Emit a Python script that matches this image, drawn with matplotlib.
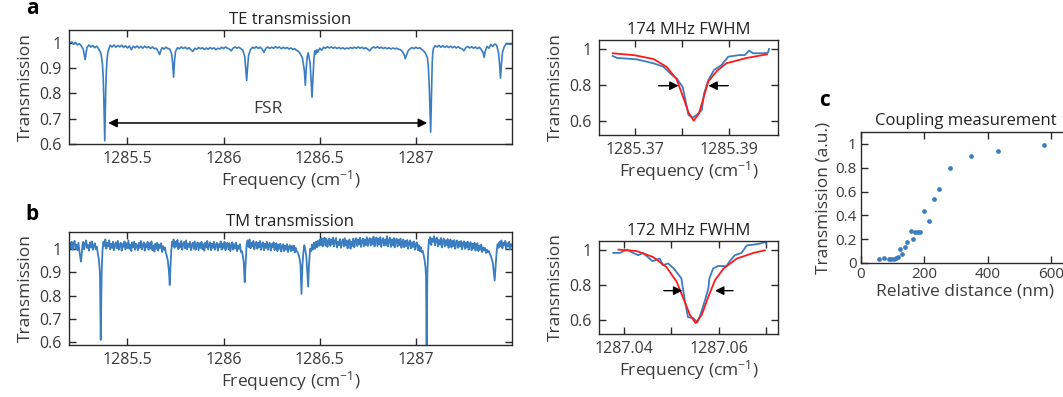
import numpy as np
import matplotlib
matplotlib.use("Agg")
import matplotlib.pyplot as plt

plt.rcParams['font.family'] = ['Open Sans', 'DejaVu Sans']
plt.rcParams['mathtext.fontset'] = 'custom'
plt.rcParams['mathtext.rm'] = 'Open Sans'
plt.rcParams['mathtext.default'] = 'regular'

# ---------------- data ----------------
TE_POINTS = """
1285.20 0.998 1285.21 1.003 1285.22 0.994 1285.23 1.001 1285.24 0.991 1285.25 0.996
1285.26 0.987 1285.27 0.975 1285.275 0.955 1285.28 0.933 1285.285 0.960 1285.29 0.982
1285.30 0.991 1285.31 0.983 1285.32 0.989 1285.33 0.980 1285.34 0.986 1285.35 0.976
1285.36 0.962 1285.365 0.945 1285.370 0.915 1285.374 0.860 1285.377 0.780 1285.380 0.670
1285.382 0.613 1285.384 0.690 1285.387 0.810 1285.390 0.885 1285.394 0.935 1285.398 0.962
1285.405 0.978 1285.41 0.990 1285.42 0.983 1285.43 0.991 1285.44 0.982 1285.45 0.989
1285.46 0.983 1285.47 0.990 1285.48 0.981 1285.49 0.988 1285.50 0.979 1285.51 0.987
1285.52 0.972 1285.53 0.986 1285.54 0.980 1285.55 0.987 1285.56 0.979 1285.57 0.985
1285.58 0.978 1285.59 0.986 1285.60 0.980 1285.61 0.984 1285.62 0.977 1285.63 0.983
1285.64 0.976 1285.65 0.978 1285.66 0.965 1285.667 0.953 1285.675 0.972 1285.68 0.980
1285.69 0.975 1285.70 0.982 1285.71 0.977 1285.72 0.975 1285.73 0.955 1285.735 0.920
1285.740 0.864 1285.745 0.930 1285.75 0.965 1285.76 0.980 1285.77 0.976 1285.78 0.983
1285.79 0.977 1285.80 0.982 1285.81 0.975 1285.82 0.980 1285.83 0.972 1285.84 0.965
1285.85 0.978 1285.86 0.974 1285.87 0.981 1285.88 0.976 1285.89 0.980 1285.90 0.973
1285.91 0.979 1285.92 0.974 1285.93 0.981 1285.94 0.975 1285.95 0.980 1285.96 0.972
1285.97 0.978 1285.98 0.975 1285.99 0.982 1286.00 0.977 1286.01 0.983 1286.02 0.978
1286.03 0.975 1286.04 0.968 1286.05 0.979 1286.06 0.983 1286.07 0.978 1286.08 0.982
1286.09 0.976 1286.10 0.970 1286.11 0.945 1286.115 0.900 1286.120 0.851 1286.125 0.905
1286.13 0.950 1286.14 0.972 1286.15 0.982 1286.16 0.978 1286.17 0.984 1286.18 0.977
1286.19 0.982 1286.20 0.975 1286.21 0.962 1286.22 0.978 1286.23 0.983 1286.24 0.977
1286.25 0.982 1286.26 0.978 1286.27 0.984 1286.28 0.979 1286.29 0.983 1286.30 0.976
1286.31 0.982 1286.32 0.977 1286.33 0.981 1286.34 0.975 1286.35 0.979 1286.36 0.973
1286.37 0.976 1286.38 0.970 1286.39 0.965 1286.40 0.955 1286.41 0.940 1286.42 0.890
1286.425 0.832 1286.43 0.900 1286.435 0.945 1286.44 0.960 1286.45 0.920 1286.455 0.850
1286.460 0.785 1286.465 0.860 1286.47 0.940 1286.475 0.968 1286.48 0.955 1286.485 0.972
1286.49 0.962 1286.50 0.978 1286.51 0.970 1286.52 0.982 1286.53 0.978 1286.54 0.984
1286.55 0.979 1286.56 0.983 1286.57 0.978 1286.58 0.982 1286.59 0.977 1286.60 0.981
1286.61 0.976 1286.62 0.980 1286.63 0.975 1286.64 0.979 1286.65 0.976 1286.66 0.981
1286.67 0.977 1286.68 0.982 1286.69 0.978 1286.70 0.983 1286.71 0.978 1286.72 0.982
1286.73 0.976 1286.74 0.980 1286.75 0.974 1286.76 0.968 1286.77 0.978 1286.78 0.983
1286.79 0.979 1286.80 0.984 1286.81 0.978 1286.82 0.982 1286.83 0.977 1286.84 0.981
1286.85 0.976 1286.86 0.980 1286.87 0.975 1286.88 0.979 1286.89 0.976 1286.90 0.978
1286.91 0.974 1286.92 0.972 1286.93 0.965 1286.94 0.950 1286.945 0.937 1286.95 0.948
1286.96 0.968 1286.97 0.976 1286.98 0.981 1286.99 0.976 1287.00 0.982 1287.01 0.977
1287.02 0.980 1287.03 0.974 1287.04 0.968 1287.05 0.958 1287.06 0.940 1287.065 0.905
1287.070 0.820 1287.073 0.740 1287.075 0.690 1287.077 0.647 1287.079 0.720 1287.082 0.830
1287.085 0.920 1287.088 0.960 1287.092 0.978 1287.10 0.988 1287.11 0.983 1287.12 0.989
1287.13 0.982 1287.14 0.988 1287.15 0.981 1287.16 0.987 1287.17 0.981 1287.18 0.986
1287.19 0.980 1287.20 0.985 1287.21 0.979 1287.22 0.984 1287.23 0.978 1287.24 0.976
1287.25 0.968 1287.26 0.980 1287.27 0.985 1287.28 0.979 1287.29 0.984 1287.30 0.978
1287.31 0.983 1287.32 0.976 1287.33 0.982 1287.34 0.973 1287.35 0.960 1287.355 0.942
1287.36 0.965 1287.37 0.985 1287.38 0.978 1287.39 0.993 1287.40 0.985 1287.41 0.995
1287.42 0.990 1287.43 0.960 1287.435 0.920 1287.440 0.860 1287.445 0.915 1287.45 0.960
1287.46 0.985 1287.47 0.994 1287.48 0.996 1287.49 0.993 1287.50 0.995
"""

TM_POINTS = """
1285.200 1.025 1285.205 1.002 1285.210 1.030 1285.215 0.996 1285.220 1.020 1285.225 1.034
1285.230 1.000 1285.235 1.018 1285.240 0.994 1285.245 1.026 1285.250 0.990 1285.255 0.962
1285.258 0.945 1285.262 0.975 1285.265 1.010 1285.270 1.030 1285.275 0.998 1285.280 1.022
1285.285 1.036 1285.290 1.004 1285.295 1.016 1285.300 0.992 1285.305 1.028 1285.310 1.006
1285.315 1.032 1285.320 0.996 1285.325 1.014 1285.330 1.024 1285.335 0.998 1285.340 1.010
1285.345 0.985 1285.350 0.960 1285.354 0.930 1285.357 0.890 1285.359 0.760 1285.361 0.610
1285.363 0.720 1285.366 0.900 1285.370 0.990 1285.375 1.030 1285.380 1.012 1285.385 1.040
1285.390 1.000 1285.395 1.026 1285.400 1.010 1285.405 1.036 1285.410 0.998 1285.415 1.022
1285.420 1.004 1285.425 1.030 1285.430 0.994 1285.435 1.018 1285.440 1.028 1285.445 1.002
1285.450 1.034 1285.455 0.996 1285.460 1.016 1285.465 1.026 1285.470 0.992 1285.475 1.020
1285.480 1.008 1285.485 1.032 1285.490 0.998 1285.495 1.024 1285.500 1.004 1285.505 1.036
1285.510 1.000 1285.515 1.018 1285.520 0.990 1285.525 1.028 1285.530 1.006 1285.535 1.030
1285.540 0.996 1285.545 1.022 1285.550 1.012 1285.555 0.994 1285.560 1.026 1285.565 1.004
1285.570 1.034 1285.575 0.998 1285.580 1.016 1285.585 1.028 1285.590 0.992 1285.595 1.020
1285.600 1.006 1285.605 1.030 1285.610 0.996 1285.615 1.024 1285.620 1.002 1285.625 1.032
1285.630 0.994 1285.635 1.014 1285.640 0.988 1285.645 1.022 1285.650 1.000 1285.655 1.026
1285.660 0.992 1285.665 1.018 1285.670 1.004 1285.675 1.024 1285.680 0.986 1285.685 1.012
1285.690 0.996 1285.695 1.006 1285.700 0.982 1285.705 0.968 1285.710 0.950 1285.715 0.910
1285.720 0.845 1285.724 0.930 1285.728 0.990 1285.732 1.030 1285.735 1.012 1285.740 1.040
1285.745 1.004 1285.750 1.030 1285.755 1.010 1285.760 1.038 1285.765 0.998 1285.770 1.024
1285.775 1.006 1285.780 1.034 1285.785 0.996 1285.790 1.020 1285.795 1.030 1285.800 1.002
1285.805 1.036 1285.810 0.998 1285.815 1.022 1285.820 1.008 1285.825 1.030 1285.830 0.994
1285.835 1.018 1285.840 1.026 1285.845 1.000 1285.850 1.032 1285.855 0.996 1285.860 1.016
1285.865 1.028 1285.870 0.994 1285.875 1.024 1285.880 1.004 1285.885 1.030 1285.890 0.998
1285.895 1.020 1285.900 0.992 1285.905 1.026 1285.910 1.006 1285.915 1.034 1285.920 0.998
1285.925 1.018 1285.930 1.028 1285.935 0.994 1285.940 1.022 1285.945 1.004 1285.950 1.030
1285.955 0.996 1285.960 1.016 1285.965 1.026 1285.970 0.992 1285.975 1.020 1285.980 1.006
1285.985 1.032 1285.990 0.996 1285.995 1.022 1286.000 1.004 1286.005 1.030 1286.010 0.994
1286.015 1.018 1286.020 1.026 1286.025 0.998 1286.030 1.024 1286.035 0.990 1286.040 1.012
1286.045 1.028 1286.050 0.996 1286.055 1.020 1286.060 1.002 1286.065 1.026 1286.070 0.990
1286.075 1.014 1286.080 1.000 1286.085 1.020 1286.090 0.986 1286.095 0.990 1286.100 0.970
1286.105 0.940 1286.110 0.857 1286.114 0.930 1286.118 0.990 1286.120 1.020 1286.125 1.036
1286.130 1.008 1286.135 1.040 1286.140 1.002 1286.145 1.026 1286.150 1.012 1286.155 1.034
1286.160 0.998 1286.165 1.020 1286.170 1.030 1286.175 1.000 1286.180 1.026 1286.185 1.006
1286.190 1.034 1286.195 0.996 1286.200 1.018 1286.205 1.028 1286.210 0.994 1286.215 1.022
1286.220 1.004 1286.225 1.030 1286.230 0.996 1286.235 1.016 1286.240 1.026 1286.245 0.992
1286.250 1.020 1286.255 1.006 1286.260 1.028 1286.265 0.994 1286.270 1.016 1286.275 1.024
1286.280 0.990 1286.285 1.018 1286.290 1.000 1286.295 1.022 1286.300 0.988 1286.305 1.010
1286.310 1.020 1286.315 0.990 1286.320 1.014 1286.325 0.996 1286.330 1.020 1286.335 0.986
1286.340 1.008 1286.345 1.016 1286.350 0.990 1286.355 1.012 1286.360 0.994 1286.365 1.014
1286.370 0.984 1286.375 1.004 1286.380 0.990 1286.385 0.985 1286.390 0.975 1286.395 0.960
1286.400 0.930 1286.405 0.807 1286.410 0.930 1286.415 0.985 1286.420 1.015 1286.425 0.995
1286.430 0.970 1286.435 0.900 1286.440 0.838 1286.444 0.930 1286.450 1.000 1286.455 0.990
1286.460 1.018 1286.465 0.996 1286.470 1.026 1286.475 1.000 1286.480 1.030 1286.485 1.006
1286.490 1.034 1286.495 1.012 1286.500 1.040 1286.505 1.016 1286.510 1.046 1286.515 1.010
1286.520 1.036 1286.525 1.048 1286.530 1.014 1286.535 1.042 1286.540 1.008 1286.545 1.030
1286.550 1.044 1286.555 1.012 1286.560 1.040 1286.565 1.020 1286.570 1.048 1286.575 1.010
1286.580 1.034 1286.585 1.046 1286.590 1.006 1286.595 1.030 1286.600 1.016 1286.605 1.042
1286.610 1.004 1286.615 1.028 1286.620 1.040 1286.625 1.010 1286.630 1.046 1286.635 1.014
1286.640 1.036 1286.645 1.002 1286.650 1.026 1286.655 1.040 1286.660 1.000 1286.665 1.030
1286.670 1.012 1286.675 1.044 1286.680 1.006 1286.685 1.032 1286.690 1.046 1286.695 1.012
1286.700 1.040 1286.705 1.018 1286.710 1.048 1286.715 1.008 1286.720 1.034 1286.725 1.044
1286.730 1.010 1286.735 1.040 1286.740 1.016 1286.745 1.050 1286.750 1.012 1286.755 1.036
1286.760 1.046 1286.765 1.014 1286.770 1.042 1286.775 1.020 1286.780 1.052 1286.785 1.010
1286.790 1.038 1286.795 1.048 1286.800 1.012 1286.805 1.044 1286.810 1.018 1286.815 1.050
1286.820 1.008 1286.825 1.036 1286.830 1.046 1286.835 1.014 1286.840 1.040 1286.845 1.016
1286.850 1.054 1286.855 1.010 1286.860 1.036 1286.865 1.048 1286.870 1.008 1286.875 1.040
1286.880 1.014 1286.885 1.046 1286.890 1.006 1286.895 1.034 1286.900 1.044 1286.905 1.010
1286.910 1.038 1286.915 1.016 1286.920 1.044 1286.925 1.004 1286.930 1.030 1286.935 1.040
1286.940 1.006 1286.945 1.034 1286.950 1.012 1286.955 1.038 1286.960 1.000 1286.965 1.026
1286.970 1.036 1286.975 1.002 1286.980 1.028 1286.985 1.008 1286.990 1.032 1286.995 0.996
1287.000 1.020 1287.005 1.028 1287.010 0.994 1287.015 1.016 1287.020 0.990 1287.025 1.008
1287.030 0.985 1287.035 0.992 1287.040 0.975 1287.045 0.955 1287.050 0.920 1287.053 0.880
1287.055 0.700 1287.056 0.560 1287.057 0.700 1287.060 0.900 1287.064 0.990 1287.068 1.040
1287.070 1.024 1287.075 1.050 1287.080 1.016 1287.085 1.044 1287.090 1.030 1287.095 1.054
1287.100 1.014 1287.105 1.040 1287.110 1.048 1287.115 1.010 1287.120 1.038 1287.125 1.018
1287.130 1.046 1287.135 1.006 1287.140 1.032 1287.145 1.044 1287.150 1.010 1287.155 1.036
1287.160 1.016 1287.165 1.042 1287.170 1.004 1287.175 1.030 1287.180 1.040 1287.185 1.006
1287.190 1.034 1287.195 1.012 1287.200 1.038 1287.205 1.000 1287.210 1.026 1287.215 1.036
1287.220 1.004 1287.225 1.030 1287.230 1.010 1287.235 1.034 1287.240 0.998 1287.245 1.024
1287.250 1.032 1287.255 1.000 1287.260 1.028 1287.265 1.006 1287.270 1.030 1287.275 0.996
1287.280 1.020 1287.285 1.028 1287.290 0.994 1287.295 1.022 1287.300 1.002 1287.305 1.026
1287.310 0.992 1287.315 1.016 1287.320 1.024 1287.325 0.990 1287.330 1.014 1287.335 0.996
1287.340 1.018 1287.345 0.986 1287.350 1.006 1287.355 0.994 1287.360 1.004 1287.365 0.982
1287.370 0.996 1287.375 0.986 1287.380 0.990 1287.385 0.978 1287.390 0.970 1287.395 0.955
1287.400 0.940 1287.405 0.900 1287.410 0.864 1287.415 0.930 1287.420 0.985 1287.425 1.020
1287.430 1.004 1287.435 1.030 1287.440 1.010 1287.445 1.036 1287.450 1.002 1287.455 1.026
1287.460 1.014 1287.465 1.034 1287.470 1.000 1287.475 1.024 1287.480 1.010 1287.485 1.030
1287.490 0.998 1287.495 1.020 1287.500 1.012
"""

_te = np.array(TE_POINTS.split(), dtype=float).reshape(-1, 2)
te_freq, te_trans = _te[:, 0], _te[:, 1]
_tm = np.array(TM_POINTS.split(), dtype=float).reshape(-1, 2)
tm_freq, tm_trans = _tm[:, 0], _tm[:, 1]

# TE resonance zoom (174 MHz)
te_zoom_freq = [1285.3654, 1285.3663, 1285.3705, 1285.3740, 1285.3761, 1285.3779, 1285.3789,
                1285.3802, 1285.3814, 1285.3823, 1285.3831, 1285.3842, 1285.3847, 1285.3856,
                1285.3868, 1285.3884, 1285.3898, 1285.3922, 1285.3933, 1285.3942, 1285.3950,
                1285.3972, 1285.3982, 1285.3984]
te_zoom_trans = [0.961, 0.950, 0.942, 0.920, 0.901, 0.855, 0.836, 0.786, 0.631, 0.618, 0.631,
                 0.659, 0.752, 0.827, 0.883, 0.911, 0.957, 0.966, 0.966, 0.991, 0.976, 0.976,
                 0.980, 1.000]
te_fit_freq = [1285.3654, 1285.3700, 1285.3740, 1285.3768, 1285.3789, 1285.3803, 1285.3814,
               1285.3825, 1285.3836, 1285.3846, 1285.3856, 1285.3875, 1285.3894, 1285.3937,
               1285.3980]
te_fit_trans = [0.976, 0.965, 0.944, 0.900, 0.830, 0.730, 0.645, 0.600, 0.640, 0.730, 0.820,
                0.880, 0.920, 0.950, 0.970]

# TM resonance zoom (172 MHz)
tm_zoom_freq = [1287.0377, 1287.0391, 1287.0406, 1287.0419, 1287.0430, 1287.0440, 1287.0460,
                1287.0475, 1287.0482, 1287.0493, 1287.0505, 1287.0521, 1287.0528, 1287.0535,
                1287.0546, 1287.0555, 1287.0560, 1287.0571, 1287.0578, 1287.0580, 1287.0588,
                1287.0599, 1287.0616, 1287.0623, 1287.0634, 1287.0648, 1287.0659, 1287.0673,
                1287.0687, 1287.0697, 1287.0700]
tm_zoom_trans = [0.981, 0.981, 1.000, 0.981, 0.968, 0.981, 0.934, 0.949, 0.911, 0.921, 0.892,
                 0.836, 0.713, 0.615, 0.609, 0.585, 0.619, 0.713, 0.779, 0.836, 0.892, 0.907,
                 0.905, 0.934, 0.968, 0.981, 1.024, 1.028, 1.034, 1.043, 1.034]
tm_fit_freq = [1287.0388, 1287.0426, 1287.0461, 1287.0489, 1287.0511, 1287.0525, 1287.0539,
               1287.0551, 1287.0564, 1287.0578, 1287.0592, 1287.0610, 1287.0638, 1287.0673,
               1287.0697]
tm_fit_trans = [1.000, 0.992, 0.958, 0.902, 0.817, 0.723, 0.628, 0.581, 0.628, 0.732, 0.826,
                0.892, 0.949, 0.981, 0.996]

# Coupling measurement
distance_nm = [56, 73, 89, 96, 103, 110, 117, 122, 131, 139, 146, 157, 164, 172, 180, 185,
               198, 214, 230, 247, 280, 346, 432, 579]
coupling_trans = [0.034, 0.042, 0.031, 0.031, 0.037, 0.045, 0.051, 0.115, 0.073, 0.135, 0.177,
                  0.270, 0.202, 0.258, 0.258, 0.258, 0.435, 0.354, 0.537, 0.621, 0.798, 0.899,
                  0.941, 0.992]

# ---------------- style ----------------
BLUE = '#3a7dc0'
RED = '#ff1a1a'
TXT = '#3a3a3a'
W, H = 1063, 397
fig = plt.figure(figsize=(W / 100, H / 100), dpi=100)

TICK = 11.5
LAB = 12.5
TIT = 12


def ax_px(l, r, t, b):
    return fig.add_axes([l / W, 1 - b / H, (r - l) / W, (b - t) / H])


def style(ax):
    for s in ax.spines.values():
        s.set_color('#2a2a2a')
        s.set_linewidth(1.0)
    ax.tick_params(direction='in', top=True, right=True, length=5, width=1,
                   labelsize=TICK, colors='#2a2a2a', labelcolor=TXT, pad=5)


# ---- panel a
axa = ax_px(69, 512, 30, 144)
axa.plot(te_freq, te_trans, color=BLUE, lw=1.2)
axa.set_xlim(1285.196, 1287.5)
axa.set_ylim(0.6, 1.05)
axa.set_xticks([1285.5, 1286, 1286.5, 1287])
axa.set_xticklabels(['1285.5', '1286', '1286.5', '1287'])
axa.set_yticks([0.6, 0.7, 0.8, 0.9, 1.0])
axa.set_yticklabels(['0.6', '0.7', '0.8', '0.9', '1'])
style(axa)
axa.set_ylabel('Transmission', fontsize=LAB, color=TXT, labelpad=4)
axa.set_xlabel('Frequency (cm$^{-1}$)', fontsize=LAB, color=TXT, labelpad=1)
axa.set_title('TE transmission', fontsize=TIT, color='#222222', pad=4)
axa.annotate('', xy=(1285.40, 0.683), xytext=(1287.059, 0.683),
             arrowprops=dict(arrowstyle='<|-|>', color='black', lw=1.1,
                             mutation_scale=13, shrinkA=0, shrinkB=0))
axa.text(1286.23, 0.705, 'FSR', ha='center', va='bottom', fontsize=LAB, color=TXT)
fig.text(32 / W, 1 - 9 / H, 'a', fontsize=15, fontweight='bold', ha='center', va='center')

# ---- panel b
axb = ax_px(69, 512, 232, 345)
axb.plot(tm_freq, tm_trans, color=BLUE, lw=1.3)
axb.set_xlim(1285.196, 1287.5)
axb.set_ylim(0.588, 1.072)
axb.set_xticks([1285.5, 1286, 1286.5, 1287])
axb.set_xticklabels(['1285.5', '1286', '1286.5', '1287'])
axb.set_yticks([0.6, 0.7, 0.8, 0.9, 1.0])
axb.set_yticklabels(['0.6', '0.7', '0.8', '0.9', '1'])
style(axb)
axb.set_ylabel('Transmission', fontsize=LAB, color=TXT, labelpad=4)
axb.set_xlabel('Frequency (cm$^{-1}$)', fontsize=LAB, color=TXT, labelpad=1)
axb.set_title('TM transmission', fontsize=TIT, color='#222222', pad=4)
fig.text(32 / W, 1 - 215 / H, 'b', fontsize=15, fontweight='bold', ha='center', va='center')

# ---- inset TE
ax1 = ax_px(599, 778, 40, 135)
ax1.plot(te_zoom_freq, te_zoom_trans, color=BLUE, lw=1.3)
ax1.plot(te_fit_freq, te_fit_trans, color=RED, lw=1.3)
ax1.set_xlim(1285.3625, 1285.4003)
ax1.set_ylim(0.52, 1.05)
ax1.set_xticks([1285.37, 1285.38, 1285.39])
ax1.set_xticklabels(['1285.37', '', '1285.39'])
ax1.set_yticks([0.6, 0.8, 1.0])
ax1.set_yticklabels(['0.6', '0.8', '1'])
style(ax1)
ax1.set_ylabel('Transmission', fontsize=LAB, color=TXT, labelpad=4)
ax1.set_xlabel('Frequency (cm$^{-1}$)', fontsize=LAB, color=TXT, labelpad=1)
ax1.set_title('174 MHz FWHM', fontsize=TIT, color='#222222', pad=4)
arrow_kw = dict(arrowstyle='-|>', color='black', lw=1.0, mutation_scale=13, shrinkA=0, shrinkB=0)
ax1.annotate('', xy=(1285.3793, 0.795), xytext=(1285.3751, 0.795), arrowprops=arrow_kw)
ax1.annotate('', xy=(1285.3856, 0.795), xytext=(1285.3898, 0.795), arrowprops=arrow_kw)

# ---- inset TM
ax2 = ax_px(599, 778, 241, 334)
ax2.plot(tm_zoom_freq, tm_zoom_trans, color=BLUE, lw=1.3)
ax2.plot(tm_fit_freq, tm_fit_trans, color=RED, lw=1.3)
ax2.set_xlim(1287.0347, 1287.0725)
ax2.set_ylim(0.519, 1.049)
ax2.set_xticks([1287.04, 1287.05, 1287.06, 1287.07])
ax2.set_xticklabels(['1287.04', '', '1287.06', ''])
ax2.set_yticks([0.6, 0.8, 1.0])
ax2.set_yticklabels(['0.6', '0.8', '1'])
style(ax2)
ax2.set_ylabel('Transmission', fontsize=LAB, color=TXT, labelpad=4)
ax2.set_xlabel('Frequency (cm$^{-1}$)', fontsize=LAB, color=TXT, labelpad=1)
ax2.set_title('172 MHz FWHM', fontsize=TIT, color='#222222', pad=4)
ax2.annotate('', xy=(1287.0523, 0.766), xytext=(1287.0484, 0.766), arrowprops=arrow_kw)
ax2.annotate('', xy=(1287.0592, 0.766), xytext=(1287.0630, 0.766), arrowprops=arrow_kw)

# ---- panel c
axc = ax_px(861, 1070, 132, 263)
axc.plot(distance_nm, coupling_trans, 'o', color=BLUE, ms=3.4, mec='none')
axc.set_xlim(0, 660)
axc.set_ylim(0, 1.1)
axc.set_xticks([0, 200, 400, 600])
axc.set_yticks([0, 0.2, 0.4, 0.6, 0.8, 1.0])
axc.set_yticklabels(['0', '0.2', '0.4', '0.6', '0.8', '1'])
style(axc)
axc.tick_params(pad=3, labelsize=11)
axc.set_ylabel('Transmission (a.u.)', fontsize=LAB, color=TXT, labelpad=3)
axc.set_xlabel('Relative distance (nm)', fontsize=LAB, color=TXT, labelpad=1)
axc.set_title('Coupling measurement', fontsize=TIT, color='#222222', pad=5)
fig.text(825 / W, 1 - 100 / H, 'c', fontsize=15, fontweight='bold', ha='center', va='center')

fig.savefig('out.png', dpi=100)
